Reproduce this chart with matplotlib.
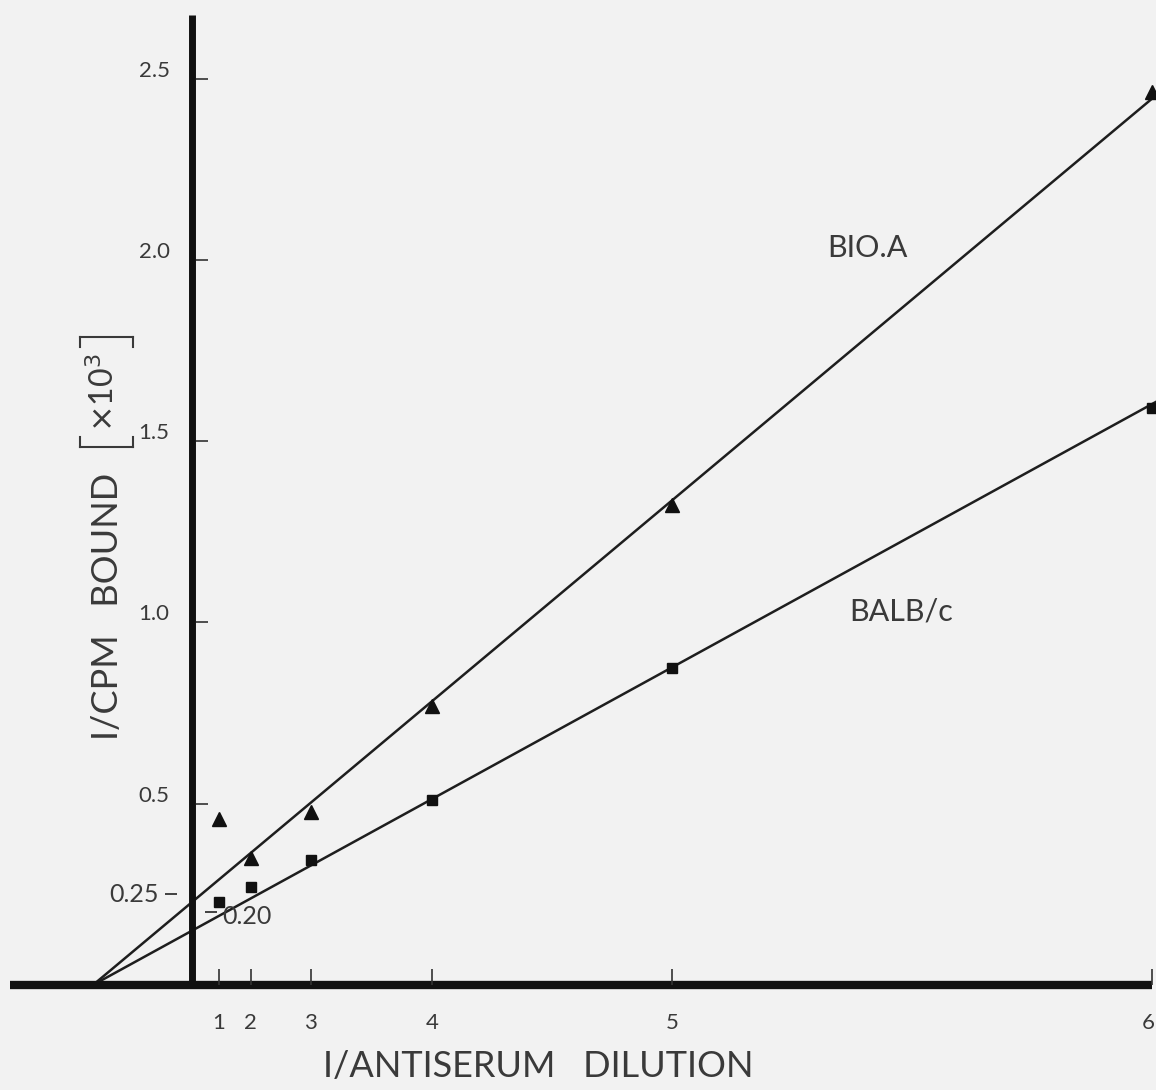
import matplotlib.pyplot as plt
import numpy as np

plt.rcParams['font.family'] = ['Lato', 'DejaVu Sans']

# dilution steps: label on the axis and position along 1/dilution
passos = ['1', '2', '3', '4', '5', '6']
x_passos = [0.9, 1.95, 3.95, 8.0, 16.0, 32.0]

# 1/cpm bound (x10^3)
bio_a = [0.458, 0.350, 0.477, 0.770, 1.324, 2.463]
balb_c = [0.229, 0.270, 0.345, 0.510, 0.874, 1.592]

y_ticks = [0.5, 1.0, 1.5, 2.0, 2.5]
y_tick_labels = ['0.5', '1.0', '1.5', '2.0', '2.5']

# marked values on the y axis near the origin
marca_esq = 0.25
marca_dir = 0.20

cor_txt = '#3a3a3a'
cor_linha = '#1e1e1e'

fig = plt.figure(figsize=(11.56, 10.90), dpi=100, facecolor='#f2f2f2')
ax = fig.add_axes([0, 0, 1, 1])
ax.set_facecolor('#f2f2f2')
ax.set_xlim(-6.4, 32.133)
ax.set_ylim(-0.2897, 2.717)
ax.axis('off')

x = np.array(x_passos)
ya = np.array(bio_a)
yb = np.array(balb_c)

# both lines share one x-intercept; first BIO.A point left out of the fit
series_fit = [(x[1:], ya[1:]), (x, yb)]

def inclinacoes(r):
    return [np.sum((xx - r) * yy) / np.sum((xx - r) ** 2) for xx, yy in series_fit]

def erro(r):
    ms = inclinacoes(r)
    return sum(np.sum((yy - m * (xx - r)) ** 2) for (xx, yy), m in zip(series_fit, ms))

raizes = np.linspace(-6, -1, 1001)
raiz = raizes[np.argmin([erro(r) for r in raizes])]

xs = np.array([raiz, 34.0])
for m in inclinacoes(raiz):
    ax.plot(xs, m * (xs - raiz), color=cor_linha, lw=1.8, zorder=3)

ax.plot(x, ya, linestyle='none', marker='^', ms=10, color='#111111', zorder=4)
ax.plot(x, yb, linestyle='none', marker='s', ms=7.5, color='#111111', zorder=4)

# axes drawn by hand, heavy strokes
ax.plot([-6.07, 32.0], [0, 0], color='#111111', lw=6, solid_capstyle='butt', zorder=5)
ax.plot([0, 0], [0, 2.676], color='#111111', lw=5, solid_capstyle='butt', zorder=5)

# x ticks and labels (last one pulled in a little off the edge)
ax.vlines(x, 0, 0.045, color='#333333', lw=1.2, zorder=5)
for i, (xp, lab) in enumerate(zip(x, passos)):
    dx = -0.12 if i == len(passos) - 1 else 0.0
    ax.text(xp + dx, -0.105, lab, ha='center', va='center', fontsize=16, color=cor_txt)

# y ticks and labels
ax.hlines(y_ticks, 0.13, 0.53, color='#333333', lw=1.2, zorder=5)
for yv, lab in zip(y_ticks, y_tick_labels):
    ax.text(-0.75, yv + 0.022, lab, ha='right', va='center', fontsize=16, color=cor_txt)

ax.hlines(marca_esq, -0.9, -0.5, color='#333333', lw=1.3)
ax.text(-1.12, marca_esq, '%.2f' % marca_esq, ha='right', va='center', fontsize=18, color=cor_txt)
ax.hlines(marca_dir, 0.43, 0.83, color='#333333', lw=1.3)
ax.text(1.0, marca_dir - 0.012, '%.2f' % marca_dir, ha='left', va='center', fontsize=18, color=cor_txt)

# series names
ax.text(22.53, 2.033, 'BIO.A', ha='center', va='center', fontsize=22, color=cor_txt)
ax.text(23.63, 1.029, 'BALB/c', ha='center', va='center', fontsize=22, color=cor_txt)

# axis titles
ax.text(11.53, -0.226, 'I/ANTISERUM   DILUTION', ha='center', va='center', fontsize=26, color=cor_txt)
ax.text(-2.83, 1.045, 'I/CPM   BOUND', ha='center', va='center', rotation=90, fontsize=26, color=cor_txt)
ax.text(-2.95, 1.635, r'$\times$10$^3$', ha='center', va='center', rotation=90, fontsize=23, color=cor_txt)

# square brackets around the scale factor
for yb0, d in [(1.484, 0.028), (1.788, -0.028)]:
    ax.plot([-3.75, -1.97], [yb0, yb0], color=cor_txt, lw=1.5)
    ax.plot([-1.97, -1.97], [yb0, yb0 + d], color=cor_txt, lw=1.5)
    ax.plot([-3.75, -3.75], [yb0, yb0 + d], color=cor_txt, lw=1.5)

fig.savefig('out.png', dpi=100, facecolor=fig.get_facecolor())
